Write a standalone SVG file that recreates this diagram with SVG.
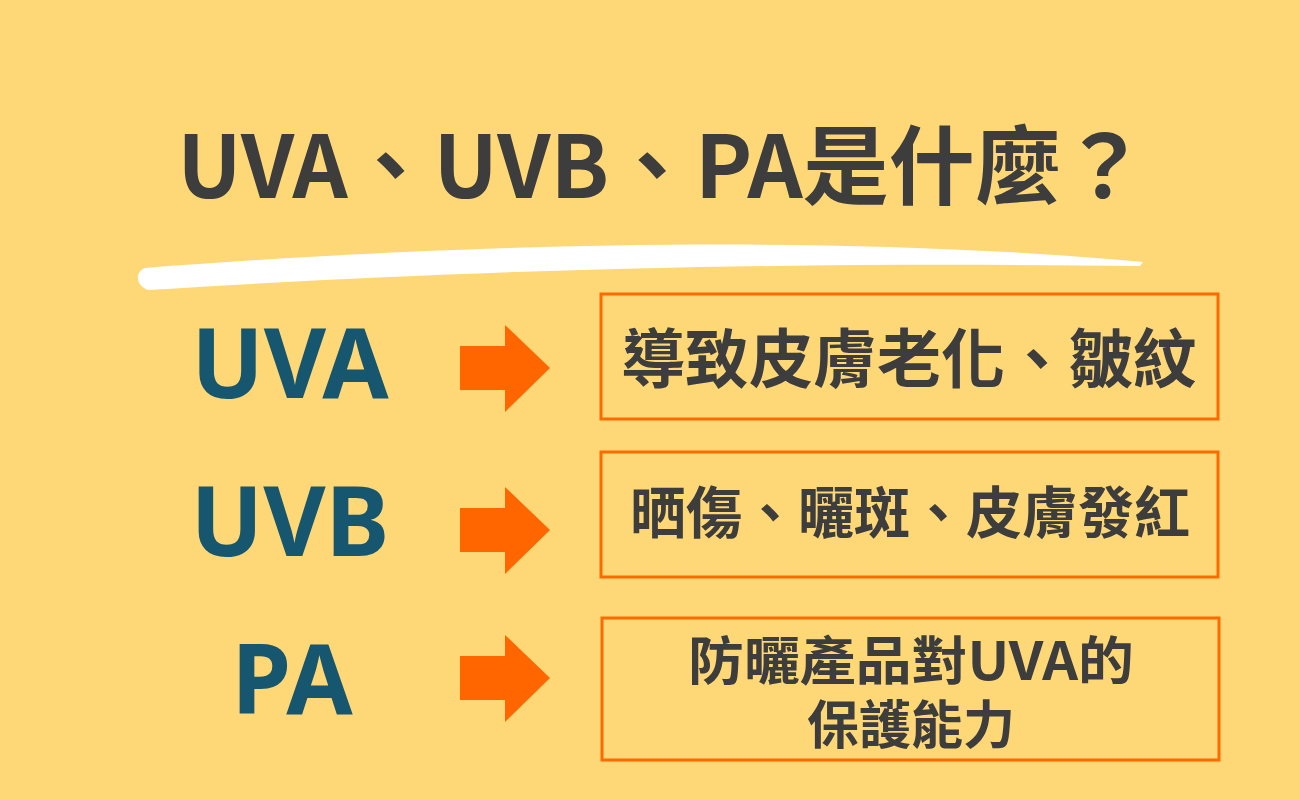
<svg xmlns="http://www.w3.org/2000/svg" width="1300" height="800" viewBox="0 0 1300 800">
<style>
.t{font-family:"Noto Sans CJK TC","Noto Sans",sans-serif;font-weight:700;fill:#3d3d3d;text-anchor:middle}
.l{font-family:"Noto Sans","Open Sans",sans-serif;font-weight:700;fill:#17566f;text-anchor:middle;font-size:96px}
.b{fill:none;stroke:#ff6a00;stroke-width:3}
.a{fill:#ff6600}
</style>
<rect width="1300" height="800" fill="#fed776"/>
<text class="t" x="662" y="198" font-size="86">UVA、UVB、PA是什麼？</text>
<path d="M145 268 C400 248 800 230 1143 262 L1140 266 C800 262 500 268 148 290 C135 285 135 272 145 268Z" fill="#fff"/>
<g id="uva"><text class="l" x="290" y="398">UVA</text></g>
<g id="uvb"><text class="l" x="290" y="556">UVB</text></g>
<g id="pa"><text class="l" x="292" y="714">PA</text></g>
<g id="connectors">
<path class="a" d="M460 346H505V325L550 368L505 412V390H460Z"/>
<path class="a" d="M460 508H505V487L550 530L505 574V552H460Z"/>
<path class="a" d="M460 656H505V635L550 678L505 722V700H460Z"/>
</g>
<g id="box1"><rect class="b" x="601" y="294" width="617" height="125"/><text class="t" x="909" y="382" font-size="64">導致皮膚老化、皺紋</text></g>
<g id="box2"><rect class="b" x="601" y="452" width="617" height="125"/><text class="t" x="910" y="533" font-size="56">晒傷、曬斑、皮膚發紅</text></g>
<g id="box3"><rect class="b" x="602" y="618" width="617" height="142"/><text class="t" x="911" y="680" font-size="52" textLength="446" lengthAdjust="spacingAndGlyphs">防曬產品對UVA的</text><text class="t" x="911" y="744" font-size="52">保護能力</text></g>
</svg>
